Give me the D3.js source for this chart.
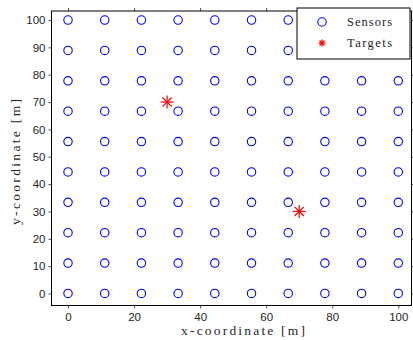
<!DOCTYPE html>
<html>
<head>
<meta charset="utf-8">
<script src="https://cdn.jsdelivr.net/npm/d3@7"></script>
<style>
  html, body { margin: 0; padding: 0; background: #fff; }
  svg { display: block; }
</style>
</head>
<body>
<svg id="chart" width="413" height="340"></svg>
<script>
// ---- data ----
const sensorXs = [0, 11.11, 22.22, 33.33, 44.44, 55.56, 66.67, 77.78, 88.89, 100];
const sensorYs = [0, 11.11, 22.22, 33.33, 44.44, 55.56, 66.67, 77.78, 88.89, 100];
const targetXs = [30, 70];
const targetYs = [70, 30];
const xTicks = [0, 20, 40, 60, 80, 100];
const yTicks = [0, 10, 20, 30, 40, 50, 60, 70, 80, 90, 100];
const legendLabels = ["Sensors", "Targets"];
const xLabel = "x-coordinate [m]";
const yLabel = "y-coordinate [m]";

(function () {
// ---- layout ----
const mLeft = 51.5, mRight = 411.5, mTop = 11, mBottom = 305.5;

const svg = d3.select("#chart");

const x = d3.scaleLinear().domain([-5, 104]).range([mLeft, mRight]);
const y = d3.scaleLinear().domain([-4.4, 103.3]).range([mBottom, mTop]);

const sensors = [];
sensorYs.forEach(sy => sensorXs.forEach(sx => sensors.push({x: sx, y: sy})));
const targets = targetXs.map((tx, i) => ({x: tx, y: targetYs[i]}));

const tickFont = "'Liberation Sans', Arial, sans-serif";
const serifFont = "'Liberation Serif', 'DejaVu Serif', serif";

// axes
const axB = svg.append("g").attr("transform", `translate(0,${mBottom})`)
  .call(d3.axisBottom(x).tickValues(xTicks).tickSize(3).tickSizeOuter(0).tickPadding(4));
const axT = svg.append("g").attr("transform", `translate(0,${mTop})`)
  .call(d3.axisTop(x).tickValues(xTicks).tickSize(3).tickSizeOuter(0).tickFormat(""));
const axL = svg.append("g").attr("transform", `translate(${mLeft},0)`)
  .call(d3.axisLeft(y).tickValues(yTicks).tickSize(3).tickSizeOuter(0).tickPadding(3));
const axR = svg.append("g").attr("transform", `translate(${mRight},0)`)
  .call(d3.axisRight(y).tickValues(yTicks).tickSize(3).tickSizeOuter(0).tickFormat(""));

[axB, axT, axL, axR].forEach(g => {
  g.select(".domain").remove();
  g.selectAll(".tick line").attr("stroke", "#262626").attr("stroke-width", 0.8);
  g.selectAll("text").attr("font-family", tickFont).attr("font-size", 11.5).attr("fill", "#262626");
});

// box
svg.append("rect")
  .attr("x", mLeft).attr("y", mTop)
  .attr("width", mRight - mLeft).attr("height", mBottom - mTop)
  .attr("fill", "none").attr("stroke", "#000").attr("stroke-width", 1);

// sensors
svg.append("g").selectAll("circle").data(sensors).join("circle")
  .attr("cx", d => x(d.x)).attr("cy", d => y(d.y)).attr("r", 4.2)
  .attr("fill", "none").attr("stroke", "#0000ff").attr("stroke-width", 1.1);

// asterisk marker
function asterisk(g, cx, cy, r) {
  [0, 45, 90, 135].forEach(a => {
    const rad = a * Math.PI / 180;
    const dx = Math.cos(rad) * r, dy = Math.sin(rad) * r;
    g.append("line")
      .attr("x1", cx - dx).attr("y1", cy - dy)
      .attr("x2", cx + dx).attr("y2", cy + dy)
      .attr("stroke", "#ff0000").attr("stroke-width", 1.2);
  });
}
const tg = svg.append("g");
targets.forEach(t => asterisk(tg, x(t.x), y(t.y), 6.5));

// legend
const lg = svg.append("g");
const lx = 297, ly = 8, lw = 113, lh = 51;
lg.append("rect").attr("x", lx).attr("y", ly).attr("width", lw).attr("height", lh)
  .attr("fill", "#fff").attr("stroke", "#000").attr("stroke-width", 1);
lg.append("circle").attr("cx", lx + 25).attr("cy", ly + 14).attr("r", 4.2)
  .attr("fill", "none").attr("stroke", "#0000ff").attr("stroke-width", 1.1);
asterisk(lg.append("g"), lx + 25, ly + 35, 3.5);
legendLabels.forEach((t, i) => {
  lg.append("text").attr("x", lx + 50).attr("y", ly + 18 + i * 21)
    .attr("font-family", serifFont).attr("font-size", 12.5).attr("fill", "#262626")
    .attr("textLength", 45).attr("lengthAdjust", "spacing")
    .text(t);
});

// axis labels
svg.append("text").attr("x", 243).attr("y", 335)
  .attr("text-anchor", "middle").attr("font-family", serifFont).attr("font-size", 13.5)
  .attr("fill", "#262626").attr("textLength", 124).attr("lengthAdjust", "spacing")
  .text(xLabel);
svg.append("text")
  .attr("transform", `translate(20,162) rotate(-90)`)
  .attr("text-anchor", "middle").attr("font-family", serifFont).attr("font-size", 13.5)
  .attr("fill", "#262626").attr("textLength", 126).attr("lengthAdjust", "spacing")
  .text(yLabel);
})();
</script>
</body>
</html>
